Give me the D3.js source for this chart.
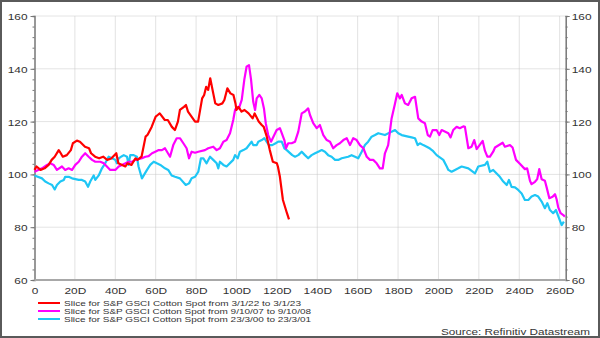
<!DOCTYPE html>
<html>
<head>
<meta charset="utf-8">
<script src="https://cdn.jsdelivr.net/npm/d3@7"></script>
<style>
  body { margin: 0; background: #fff; }
  text { font-family: "Liberation Sans", Arial, sans-serif; fill: #333; }
</style>
</head>
<body>
<svg id="chart" width="600" height="338"></svg>
<script>
var width = 600, height = 338;

// tick values / labels
var xTicks = [0, 20, 40, 60, 80, 100, 120, 140, 160, 180, 200, 220, 240, 260];
var xTickLabels = ["0", "20D", "40D", "60D", "80D", "100D", "120D", "140D", "160D", "180D", "200D", "220D", "240D", "260D"];
var yTicks = [60, 80, 100, 120, 140, 160];

var seriesNames = [
  "Slice for S&P GSCI Cotton Spot from 3/1/22 to 3/1/23",
  "Slice for S&P GSCI Cotton Spot from 9/10/07 to 9/10/08",
  "Slice for S&P GSCI Cotton Spot from 23/3/00 to 23/3/01"
];
var seriesColors = ["#ff0000", "#ff00ff", "#1ec6f5"];
var sourceText = "Source: Refinitiv Datastream";

// [day, value]
var red = [[0,101.7],[1,103],[3,101.7],[5,102.3],[7,103.6],[8.5,105.5],[10,106.7],[12,109.2],[13,108],[14,106.7],
  [16,107.3],[18,109.2],[19,111.8],[21,112.8],[22.5,112.4],[25,110.5],[27,109.9],[28,108],[30,106.7],[32,106.1],
  [34,106.7],[36,105.5],[38,106],[40.5,108],[41.5,104.2],[45,103],[46,104.2],[48,103.6],[50,106.1],[51,105.5],
  [53,106.7],[55,114.3],[56,115],[58,118],[60,121.9],[61,122.5],[62,123.1],[64.5,120.6],[66,120.6],[68,118],
  [69.5,116.8],[71,120],[72,124.4],[74,125.6],[75,126.3],[76,123.8],[79.5,120],[81,120],[83,128.8],[84,130.1],
  [85,133.2],[86,132],[87,136.4],[88.5,130.7],[89.5,126.9],[91,126.3],[93,126.9],[94,128.2],[95.5,132.6],[97,130.7],
  [98.5,130.1],[99.5,126.9],[100,124.4],[101,125.6],[102.5,123.8],[104,124.4],[106,123.1],[108,121.2],[109,123.1],
  [111,120],[112.5,118.7],[113.5,118],[115,114.3],[116.5,109.2],[118,104.8],[120,104.2],[120.5,103],[121.5,99.1],
  [123,90.3],[125,85.3],[126,83]];

var magenta = [[0,101],[3.7,102.3],[6.2,103.6],[7.8,104.2],[9.5,103.6],[11.1,101.7],[13.6,103],[15.2,101.7],[16.9,102.3],
  [18.6,101.7],[20.2,103.6],[21.9,104.8],[23.5,106.7],[25.1,108],[26.8,106.7],[28.5,105.5],[30.1,104.8],[32.6,104.8],
  [34.3,104.2],[37.5,101.7],[40,101.7],[41.7,103],[43.3,103.6],[45,104.2],[46.6,104.8],[48.3,104.8],[49.9,105.5],
  [53.2,106.1],[54.9,106.7],[56.5,106.9],[58.2,108],[59.8,108.6],[61.5,109.2],[63.1,109.2],[64.6,109.9],[67.1,106.7],
  [68.7,111.1],[70.4,113.7],[72,113.7],[73.7,111.8],[75.3,109.9],[76.5,106.1],[77.8,108.6],[79.5,108.2],[81.1,108.6],
  [84.4,109.2],[86,109.9],[88.5,110.5],[90.2,109.2],[91.8,109.9],[93.5,112.4],[95.1,113],[96.8,115.6],[98.4,120.6],
  [99.3,124.4],[100.1,125.6],[101.2,125],[102.6,128.2],[103.9,136],[105,140.8],[106.2,141.4],[107.2,136],[108.3,127.5],
  [109.2,124.4],[110,128.8],[111.3,130.1],[112.5,128.8],[113.6,125],[114.5,119.4],[115.7,114.9],[117.1,112.4],
  [119.9,116.8],[121.5,117.5],[123.7,113],[124.5,109.9],[125.6,111.8],[127.3,111.8],[129,112.4],[130.6,116.2],
  [132.3,123.1],[133.9,123.8],[135.5,125],[136.4,122.5],[138,119.4],[139.7,117.5],[141.3,118.7],[143,114.9],
  [144.7,113],[146.3,112.4],[147.9,109.9],[149.6,111.1],[151.2,111.8],[152.9,113],[154.6,113.7],[156.2,111.1],
  [157.8,113.7],[159.5,113],[161.1,111.1],[162.8,109.9],[164.5,106.7],[166.1,105.5],[167.7,105.5],[169.4,104.2],
  [171,102.3],[172.4,102.3],[173.5,108],[175.1,111.1],[176.8,121.2],[178.5,126.9],[179.6,130.7],[180.9,128.8],
  [181.8,130.1],[183.4,126.9],[185,126.3],[186.7,128.8],[188.4,129.4],[190,121.2],[191.7,120],[193.3,119.4],
  [194.7,114.9],[195.8,114.3],[197.1,116.8],[199.1,116.8],[200.4,114.9],[201.6,116.8],[204.9,115.6],[206,114],
  [207.3,116.8],[209,118],[210.6,117.5],[212.3,118.2],[213.1,118],[214.8,109.9],[216.4,110.5],[217.7,113],
  [218.9,109.6],[221.9,112.7],[223,109],[224.2,106.7],[225.5,106.7],[227.1,108.6],[228,110.2],[231.8,112],
  [232.9,110.5],[235.4,111.1],[236.7,110.2],[238.4,105.5],[240.3,104],[242.8,102],[243.9,102.3],[245.3,97.6],
  [246.1,96.3],[247.8,97.2],[248.9,98.2],[249.9,102],[251.1,98.2],[252.7,97.6],[253.6,95],[254.9,91],[256.5,91.5],
  [257.7,92.5],[258.5,90.6],[259.3,87.5],[260.5,85.3],[261.8,84.6],[262.6,84]];

var cyan = [[0,99.6],[3.7,98.5],[5.3,97.3],[7,96.6],[8.7,96],[10,94.3],[11.1,96],[12.8,97.3],[14.5,97.9],[15.2,99.1],
  [16.9,99.1],[18.6,98.5],[21.9,97.9],[23.5,97.9],[25.1,97.3],[26.5,95.3],[27.6,97.3],[29.3,99.6],[30.1,97.9],
  [31.8,99.6],[33.4,102.3],[35,104.2],[36.7,106.7],[38.4,106.1],[40,105.5],[40.8,104.2],[41.7,106.1],[43.3,106.9],
  [44.2,107.3],[45.8,106.7],[46.6,103.6],[47.4,107.3],[49.1,107.3],[50.7,106.7],[51.5,103],[53.2,98.5],[55.7,101.7],
  [57.3,103.6],[59,104.8],[60.6,104.2],[62.3,103.6],[64.6,102.3],[66.2,101.7],[67.9,99.6],[69.6,99.1],[72,98.5],
  [74.9,96],[76.5,96.6],[77.8,98.5],[79.5,99.1],[81.1,101],[82.4,106.1],[83.6,106.1],[85.2,104.2],[86.9,106.7],
  [88.5,105.5],[90.2,104.2],[91,102.3],[91.8,104.8],[93.5,103.6],[95.1,103],[98.4,105.5],[99.3,107.3],[100.6,106.1],
  [101.7,108.6],[103.4,109.2],[105,109.9],[107.5,112.4],[108.3,111.1],[110,111.1],[110.8,112.4],[112.5,113],
  [113.8,113.7],[114.9,112.4],[116.1,111.1],[117.7,111.1],[119.4,111.8],[120.7,112.4],[122.4,112.4],[123.7,109.9],
  [124.9,109.2],[127.6,107.3],[129,106.7],[130.6,107.3],[132.3,108.6],[133.9,107.3],[135.5,106.1],[137.2,107.3],
  [138.9,108],[140.5,108.6],[142.2,109.2],[143.8,108.6],[145.4,107.3],[147.1,106.7],[148.8,105.5],[150.4,105.5],
  [152.1,106.1],[155.3,106.7],[157,107.3],[158.7,106.7],[160.3,106.1],[162,108.6],[163.6,111.1],[165.2,112.4],
  [166.9,114.3],[168.6,114.9],[170.2,115.6],[173.5,114.9],[176.8,116.2],[178.5,116.8],[180.1,115.6],[181.8,114.9],
  [185,114.3],[186.7,114],[188.4,113.7],[189.7,111.1],[190.8,111.8],[192.5,111.1],[194.2,110.5],[195.8,109.8],
  [197.4,108.8],[199.1,107.3],[202.4,105.5],[204.1,103],[204.9,101.7],[206.5,101],[208.2,101.7],[209.8,102.3],
  [211.5,103],[214.8,102.3],[218.1,100.4],[219.7,103],[223,103.6],[224.2,104.8],[225.5,101],[227.1,101.7],
  [230.4,99.1],[232.1,97.3],[233.8,96],[234.9,97.9],[236.2,95.3],[237.9,95.1],[239.5,94.1],[241.2,92.8],
  [242.8,90.3],[244.5,90.3],[246.1,91.6],[247.8,92.2],[249.4,91.6],[251.1,89.7],[252.7,87.2],[253.9,89.1],
  [255.2,86.5],[256.8,85.3],[258.2,86.5],[259.4,84],[261,80.8],[262.1,82.1]];

var series = [red, magenta, cyan];

var plotL = 34.5, plotR = 565.7, plotT = 16, plotB = 280;
var stretch = 1.25;

var svg = d3.select("#chart");

svg.append("rect")
  .attr("x", 1).attr("y", 1)
  .attr("width", width - 2).attr("height", height - 2)
  .attr("fill", "#fff")
  .attr("stroke", "#5a5a5a")
  .attr("stroke-width", 2);

var x = d3.scaleLinear().domain([0, 263]).range([plotL, plotR]);
var y = d3.scaleLinear().domain([60, 160]).range([plotB, plotT]);

// grid
svg.append("g").selectAll("line").data(xTicks.slice(1)).enter()
  .append("line")
  .attr("x1", function(d) { return x(d); }).attr("x2", function(d) { return x(d); })
  .attr("y1", plotT).attr("y2", plotB)
  .attr("stroke", "#e2e2e2").attr("stroke-width", 1);

svg.append("g").selectAll("line").data(yTicks.slice(1)).enter()
  .append("line")
  .attr("x1", plotL).attr("x2", plotR)
  .attr("y1", function(d) { return y(d); }).attr("y2", function(d) { return y(d); })
  .attr("stroke", "#c8c8c8").attr("stroke-width", 1)
  .attr("stroke-dasharray", "1,1");

// minor ticks every 4
var minor = d3.range(60, 161, 4);

function styleAxis(g) {
  g.select(".domain").attr("stroke", "#777").attr("stroke-width", 1.5);
  g.selectAll(".tick line").attr("stroke", "#777");
}

var gl = svg.append("g").attr("transform", "translate(" + plotL + ",0)")
  .call(d3.axisLeft(y).tickValues(minor).tickSize(2).tickFormat(""));
styleAxis(gl);
var gl2 = svg.append("g").attr("transform", "translate(" + plotL + ",0)")
  .call(d3.axisLeft(y).tickValues(yTicks).tickSize(4).tickSizeOuter(0));
styleAxis(gl2);
gl2.select(".domain").remove();
gl2.selectAll(".tick text")
  .attr("x", null).attr("dy", null)
  .attr("transform", "translate(-7,3.5) scale(" + stretch + ",1)")
  .attr("font-size", 9.5).attr("text-anchor", "end");

var gr = svg.append("g").attr("transform", "translate(" + plotR + ",0)")
  .call(d3.axisRight(y).tickValues(minor).tickSize(2).tickFormat(""));
styleAxis(gr);
var gr2 = svg.append("g").attr("transform", "translate(" + plotR + ",0)")
  .call(d3.axisRight(y).tickValues(yTicks).tickSize(4).tickSizeOuter(0));
styleAxis(gr2);
gr2.select(".domain").remove();
gr2.selectAll(".tick text")
  .attr("x", null).attr("dy", null)
  .attr("transform", "translate(6,3.5) scale(" + stretch + ",1)")
  .attr("font-size", 9.5).attr("text-anchor", "start");

var gb = svg.append("g").attr("transform", "translate(0," + plotB + ")")
  .call(d3.axisBottom(x).tickValues(xTicks).tickSize(0).tickSizeOuter(0)
    .tickFormat(function(d, i) { return xTickLabels[i]; }));
gb.select(".domain").attr("stroke", "#a8a8a8").attr("stroke-width", 2)
  .attr("d", "M" + plotL + ",0H" + plotR);
gb.selectAll(".tick text")
  .attr("y", null).attr("dy", null)
  .attr("transform", "translate(0,13.5) scale(" + stretch + ",1)")
  .attr("font-size", 9.5).attr("text-anchor", "middle");

// series, drawn cyan first so red sits on top
var line = d3.line()
  .x(function(d) { return x(d[0]); })
  .y(function(d) { return y(d[1]); });

[2, 1, 0].forEach(function(i) {
  svg.append("path")
    .datum(series[i])
    .attr("d", line)
    .attr("fill", "none")
    .attr("stroke", seriesColors[i])
    .attr("stroke-width", 2.2)
    .attr("stroke-linejoin", "round");
});

// legend
var legendLen = [237, 247, 247];
var legend = svg.selectAll(".legend").data(seriesNames).enter()
  .append("g")
  .attr("class", "legend")
  .attr("transform", function(d, i) { return "translate(0," + (303 + i * 8) + ")"; });

legend.append("line")
  .attr("x1", 38).attr("x2", 60)
  .attr("stroke", function(d, i) { return seriesColors[i]; })
  .attr("stroke-width", 2);

legend.append("text")
  .attr("x", 64).attr("y", 3)
  .attr("font-size", 7.8)
  .attr("textLength", function(d, i) { return legendLen[i]; })
  .attr("lengthAdjust", "spacingAndGlyphs")
  .text(function(d) { return d; });

svg.append("text")
  .attr("x", 441).attr("y", 334.5)
  .attr("font-size", 9)
  .attr("textLength", 149)
  .attr("lengthAdjust", "spacingAndGlyphs")
  .text(sourceText);
</script>
</body>
</html>
